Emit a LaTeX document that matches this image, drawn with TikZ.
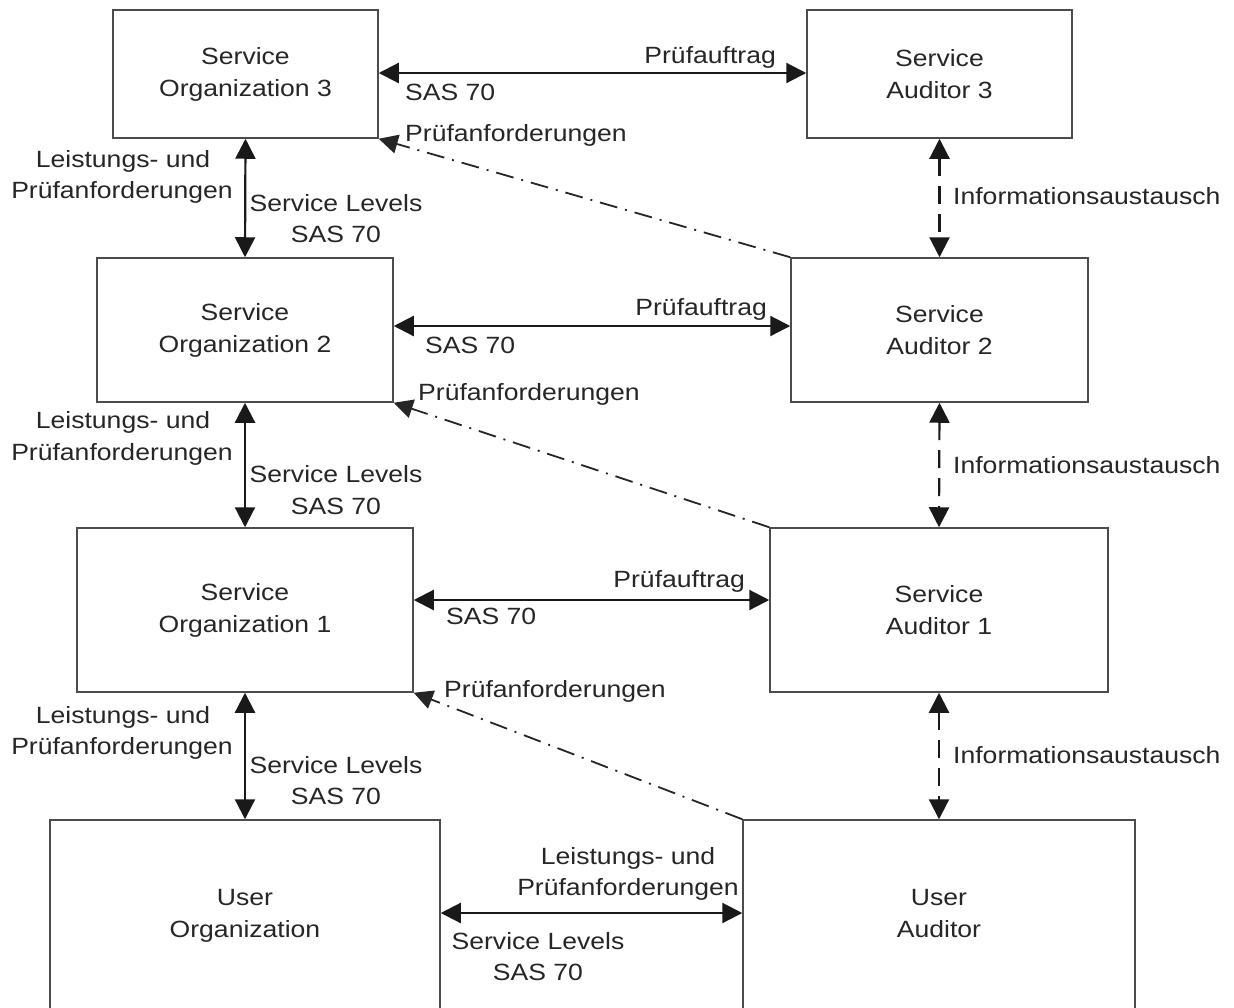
\documentclass[tikz,border=0pt]{standalone}
\usepackage{fontspec}
\setmainfont{Liberation Sans}[FakeStretch=1.13]
\usetikzlibrary{arrows.meta}
\newcommand\labfont{\fontsize{23.5}{32}\selectfont}
\begin{document}
\begin{tikzpicture}[x=1pt,y=-1pt,
  box/.style={draw=black!70, line width=1.5pt, rectangle, inner sep=0pt, align=center, font=\labfont, text=black!85},
  lbl/.style={inner sep=0pt, font=\labfont, text=black!85},
  arr/.style={line width=2.2pt, draw=black!90, {Triangle[length=20pt,width=20pt]}-{Triangle[length=20pt,width=20pt]}},
  darr/.style={arr, dash pattern=on 18pt off 10pt},
  dd/.style={line width=1.8pt, draw=black!85, dash pattern=on 18pt off 8pt on 2pt off 8pt, -{Triangle[length=19pt,width=19pt]}},
]
\useasboundingbox (0,0) rectangle (1234,1007);
\clip (0,0) rectangle (1234,1007);
\fill[white] (0,0) rectangle (1234,1007);

% boxes
\node[box, minimum width=265pt, minimum height=128pt] (so3) at (245.5,74) {Service\\Organization 3};
\node[box, minimum width=265pt, minimum height=128pt] (sa3) at (939.5,74) {Service\\Auditor 3};
\node[box, minimum width=296pt, minimum height=144pt] (so2) at (245,330) {Service\\Organization 2};
\node[box, minimum width=297pt, minimum height=144pt] (sa2) at (939.5,330) {Service\\Auditor 2};
\node[box, minimum width=336pt, minimum height=164pt] (so1) at (245,610) {Service\\Organization 1};
\node[box, minimum width=338pt, minimum height=164pt] (sa1) at (939,610) {Service\\Auditor 1};
\node[box, minimum width=390pt, minimum height=240pt] (uo) at (245,940) {};
\node[box, minimum width=392pt, minimum height=240pt] (ua) at (939,940) {};
\node[lbl, anchor=base] (uo1) at (245,905.5) {User};
\node[lbl, anchor=base] (uo2) at (245,937.5) {Organization};
\node[lbl, anchor=base] (ua1) at (939,905.5) {User};
\node[lbl, anchor=base] (ua2) at (939,937.5) {Auditor};

% horizontal arrows
\draw[arr] ([yshift=1pt]so3.east) -- ([yshift=1pt]sa3.west);
\draw[arr] ([yshift=4pt]so2.east) -- ([yshift=4pt]sa2.west);
\draw[arr] ([yshift=10pt]so1.east) -- ([yshift=10pt]sa1.west);
\draw[arr] ([yshift=27pt]uo.east) -- ([yshift=27pt]ua.west);

% vertical arrows (left)
\draw[arr] (so3.south) -- (so2.north);
\draw[arr] (so2.south) -- (so1.north);
\draw[arr] (so1.south) -- (uo.north);

% vertical dashed arrows (right)
\draw[darr] (sa3.south) -- (sa2.north);
\draw[darr] (sa2.south) -- (sa1.north);
\draw[darr] (sa1.south) -- (ua.north);

% dash-dot arrows
\draw[dd] (sa2.north west) -- (so3.south east);
\draw[dd] (sa1.north west) -- (so2.south east);
\draw[dd] (ua.north west) -- (so1.south east);

% row 3 labels
\node[lbl, anchor=base east] (pa3) at (776,63.5) {Prüfauftrag};
\node[lbl, anchor=base west] (sas3) at (405,100) {SAS 70};
\node[lbl, anchor=base west] (pf3) at (405,141) {Prüfanforderungen};
\node[lbl, anchor=base] (l3a) at (123,167.5) {Leistungs- und};
\node[lbl, anchor=base] (l3b) at (122,198.5) {Prüfanforderungen};
\node[lbl, anchor=base] (s3a) at (336,211.5) {Service Levels};
\node[lbl, anchor=base] (s3b) at (336,242.5) {SAS 70};
\node[lbl, anchor=base west] (i3) at (953,204.5) {Informationsaustausch};

% row 2 labels
\node[lbl, anchor=base east] (pa2) at (767,315.5) {Prüfauftrag};
\node[lbl, anchor=base west] (sas2) at (425,353.5) {SAS 70};
\node[lbl, anchor=base west] (pf2) at (418,400.5) {Prüfanforderungen};
\node[lbl, anchor=base] (l2a) at (123,428.5) {Leistungs- und};
\node[lbl, anchor=base] (l2b) at (122,460.5) {Prüfanforderungen};
\node[lbl, anchor=base] (s2a) at (336,482.5) {Service Levels};
\node[lbl, anchor=base] (s2b) at (336,514.5) {SAS 70};
\node[lbl, anchor=base west] (i2) at (953,473.5) {Informationsaustausch};

% row 1 labels
\node[lbl, anchor=base east] (pa1) at (745,587.5) {Prüfauftrag};
\node[lbl, anchor=base west] (sas1) at (446,624.5) {SAS 70};
\node[lbl, anchor=base west] (pf1) at (444,697.5) {Prüfanforderungen};
\node[lbl, anchor=base] (l1a) at (123,723.5) {Leistungs- und};
\node[lbl, anchor=base] (l1b) at (122,754.5) {Prüfanforderungen};
\node[lbl, anchor=base] (s1a) at (336,773.5) {Service Levels};
\node[lbl, anchor=base] (s1b) at (336,804.5) {SAS 70};
\node[lbl, anchor=base west] (i1) at (953,763.5) {Informationsaustausch};

% bottom labels
\node[lbl, anchor=base] (l0a) at (628,864.5) {Leistungs- und};
\node[lbl, anchor=base] (l0b) at (628,895.5) {Prüfanforderungen};
\node[lbl, anchor=base] (s0a) at (538,949.5) {Service Levels};
\node[lbl, anchor=base] (s0b) at (538,980.5) {SAS 70};
\end{tikzpicture}
\end{document}
